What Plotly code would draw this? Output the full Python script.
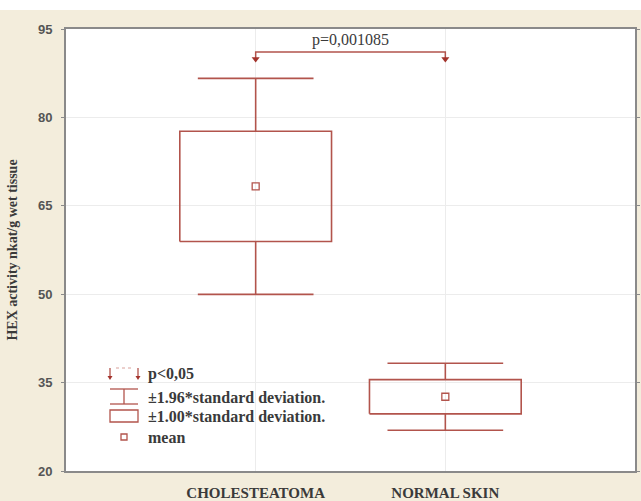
import plotly.graph_objects as go

# ---- data ----
categories = ["CHOLESTEATOMA", "NORMAL SKIN"]
means = [68.3, 32.6]
sds = [9.35, 2.9]
p_text = "p=0,001085"
y_ticks = [20, 35, 50, 65, 80, 95]
legend_labels = ["p<0,05", "±1.96*standard deviation.", "±1.00*standard deviation.", "mean"]
y_title = "HEX activity nkat/g wet tissue"

RED = "#b2544c"
DARK_RED = "#a3332c"
BEIGE = "#f3eddc"
SERIF = "Liberation Serif"
TXT = "#3a3a3a"

L, R, T, B = 66, 6, 29, 30
W, H = 641, 501
PW, PH = W - L - R, H - T - B

def xp(px):
    return (px - L) / PW

def yp(py):
    return (H - B - py) / PH

fig = go.Figure()

box_half = 0.40
cap_half = 0.305
for i, (m, s) in enumerate(zip(means, sds)):
    lo1, hi1 = m - s, m + s
    lo2, hi2 = m - 1.96 * s, m + 1.96 * s
    # box
    fig.add_trace(go.Scatter(
        x=[i - box_half, i + box_half, i + box_half, i - box_half, i - box_half],
        y=[lo1, lo1, hi1, hi1, lo1], mode="lines",
        line=dict(color=RED, width=1.6), hoverinfo="skip", showlegend=False))
    # whiskers
    fig.add_trace(go.Scatter(
        x=[i, i, None, i, i, None, i - cap_half, i + cap_half, None, i - cap_half, i + cap_half],
        y=[hi1, hi2, None, lo1, lo2, None, hi2, hi2, None, lo2, lo2], mode="lines",
        line=dict(color=RED, width=1.6), hoverinfo="skip", showlegend=False))
    # mean
    fig.add_trace(go.Scatter(
        x=[i], y=[m], mode="markers",
        marker=dict(symbol="square-open", size=7, color=RED, line=dict(width=1.3)),
        hoverinfo="skip", showlegend=False))

# significance bracket
br_y = 91.1
br_tip = 89.9
fig.add_trace(go.Scatter(
    x=[0, 0, 1, 1], y=[br_tip, br_y, br_y, br_tip], mode="lines",
    line=dict(color=RED, width=1.5), hoverinfo="skip", showlegend=False))
fig.add_trace(go.Scatter(
    x=[0, 1], y=[br_tip, br_tip], mode="markers",
    marker=dict(symbol="triangle-down", size=7, color=DARK_RED),
    hoverinfo="skip", showlegend=False))
fig.add_annotation(x=0.5, y=93.2, xref="x", yref="y", text=p_text, showarrow=False,
                   font=dict(family=SERIF, size=16, color=TXT))

# ---- legend (drawn manually) ----
shapes = []
rows_y = [374, 397, 416, 437]
sx0, sx1 = 110, 138
txt_x = 146
lw = dict(color=RED, width=1.3)
# p<0,05 symbol
shapes += [
    dict(type="line", xref="paper", yref="paper", x0=xp(sx0), x1=xp(sx0), y0=yp(368), y1=yp(378), line=lw),
    dict(type="line", xref="paper", yref="paper", x0=xp(sx1), x1=xp(sx1), y0=yp(368), y1=yp(378), line=lw),
    dict(type="line", xref="paper", yref="paper", x0=xp(sx0 + 6), x1=xp(sx1 - 6), y0=yp(368), y1=yp(368),
         line=dict(color="#d9a09a", width=1, dash="dot")),
]
# ±1.96 symbol
shapes += [
    dict(type="line", xref="paper", yref="paper", x0=xp(sx0), x1=xp(sx1), y0=yp(389), y1=yp(389), line=lw),
    dict(type="line", xref="paper", yref="paper", x0=xp(sx0), x1=xp(sx1), y0=yp(404), y1=yp(404), line=lw),
    dict(type="line", xref="paper", yref="paper", x0=xp((sx0 + sx1) / 2), x1=xp((sx0 + sx1) / 2),
         y0=yp(389), y1=yp(404), line=lw),
]
# ±1.00 symbol
shapes.append(dict(type="rect", xref="paper", yref="paper", x0=xp(sx0), x1=xp(sx1), y0=yp(422), y1=yp(410), line=lw))
# mean symbol
shapes.append(dict(type="rect", xref="paper", yref="paper", x0=xp(121), x1=xp(127), y0=yp(440), y1=yp(434), line=lw))
# arrowheads for p symbol
for sx in (sx0, sx1):
    shapes.append(dict(type="path", xref="paper", yref="paper",
                       path=f"M {xp(sx-2.5)} {yp(376)} L {xp(sx+2.5)} {yp(376)} L {xp(sx)} {yp(380)} Z",
                       fillcolor=DARK_RED, line=dict(width=0)))
# white strip at very top of image
shapes.append(dict(type="rect", xref="paper", yref="paper", x0=-0.2, x1=1.2, y0=yp(10), y1=yp(-5),
                   fillcolor="white", line=dict(width=0), layer="below"))

for lab, ry in zip(legend_labels, rows_y):
    fig.add_annotation(x=xp(txt_x), y=yp(ry), xref="paper", yref="paper", text=lab, showarrow=False,
                       xanchor="left", yanchor="middle",
                       font=dict(family=SERIF, size=16, color=TXT, weight="bold"))

fig.update_layout(
    width=W, height=H,
    margin=dict(l=L, r=R, t=T, b=B),
    paper_bgcolor=BEIGE, plot_bgcolor="white",
    shapes=shapes,
    showlegend=False,
)
fig.update_xaxes(range=[-1, 2], tickvals=list(range(len(categories))), ticktext=categories,
                 showgrid=True, gridcolor="#ececec", gridwidth=1, zeroline=False,
                 showline=True, linecolor="#8a8a8a", linewidth=2, mirror=True,
                 ticks="", ticklabelstandoff=7, automargin=False,
                 tickfont=dict(family=SERIF, size=15, color=TXT, weight="bold"))
fig.update_yaxes(range=[20, 95], tickvals=y_ticks, showgrid=True, gridcolor="#ececec", gridwidth=1,
                 zeroline=False, showline=True, linecolor="#8a8a8a", linewidth=2, mirror="ticks",
                 ticks="outside", ticklen=3, tickcolor="#8a8a8a", ticklabelstandoff=6, automargin=False,
                 tickfont=dict(family="Liberation Sans", size=13, color="#555555", weight="bold"),
                 title=dict(text=y_title, standoff=17,
                            font=dict(family=SERIF, size=14, color=TXT, weight="bold")))

fig.write_html("out.html", config={"displayModeBar": False},
               post_script="document.body.style.margin='0';document.body.style.overflow='hidden';")
